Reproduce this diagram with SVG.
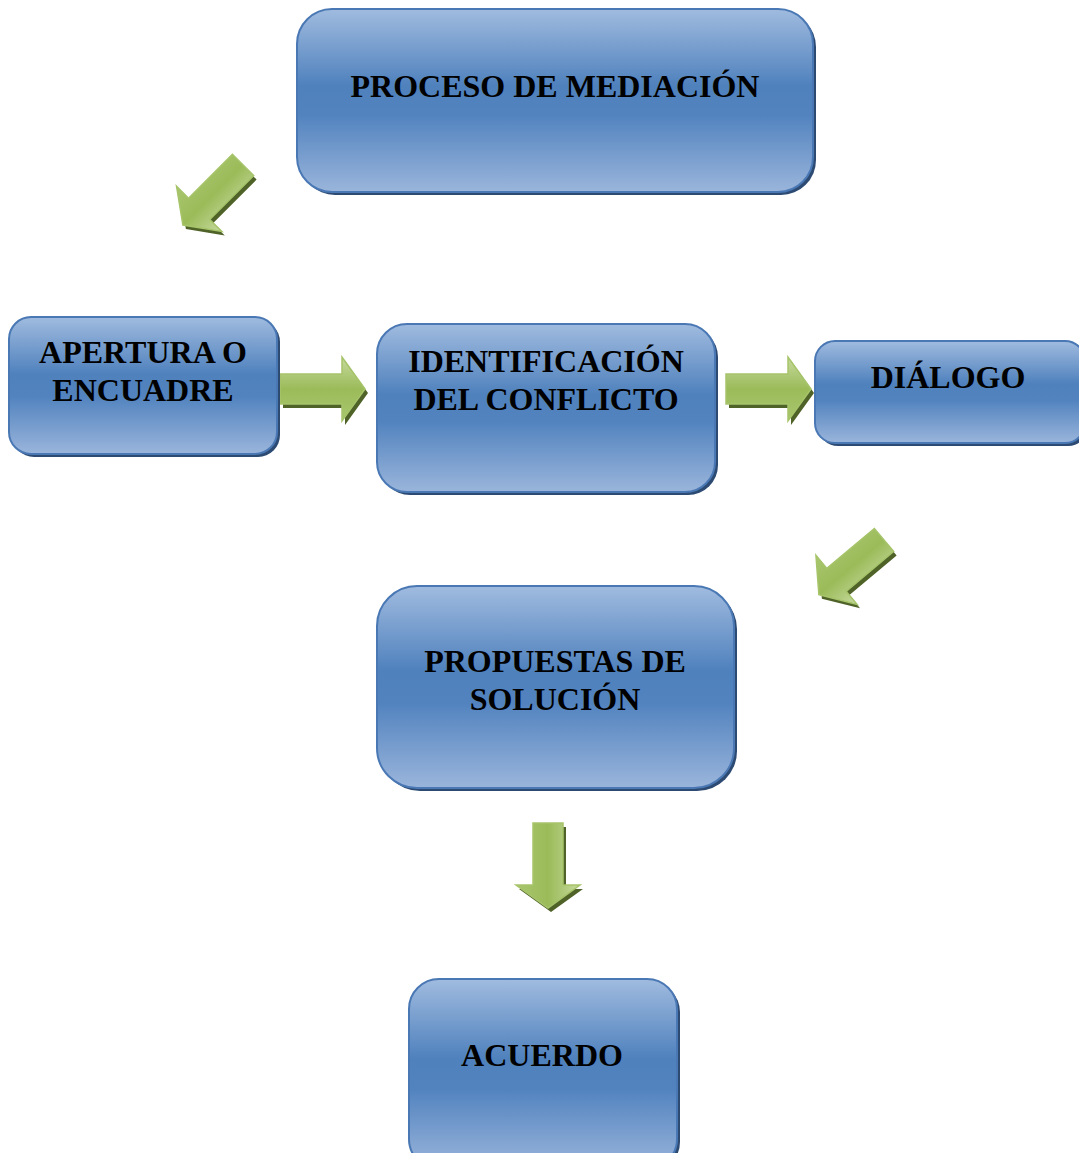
<svg xmlns="http://www.w3.org/2000/svg" xmlns:xlink="http://www.w3.org/1999/xlink" width="1079" height="1153" viewBox="0 0 1079 1153">
<style>
.box{fill:url(#boxGrad);stroke:#4a78b4;stroke-width:2}
.shadow{fill:#2c4a72}
.lbl{font-family:"Liberation Serif","Times New Roman",serif;font-weight:bold;font-size:32px;fill:#000;text-anchor:middle}
.arr{fill:url(#arrGrad);stroke:#a6c46a;stroke-width:1.5}
.arrsh{fill:#4f6228}
</style>
<defs>
<linearGradient id="boxGrad" x1="0" y1="0" x2="0" y2="1">
<stop offset="0" stop-color="#a0bbdf"/>
<stop offset="0.42" stop-color="#4f81bd"/>
<stop offset="0.58" stop-color="#5283bf"/>
<stop offset="1" stop-color="#9ab5db"/>
</linearGradient>
<linearGradient id="arrGrad" x1="0" y1="0" x2="0" y2="1">
<stop offset="0" stop-color="#c6da9e"/>
<stop offset="0.5" stop-color="#9bbb59"/>
<stop offset="1" stop-color="#a9c66e"/>
</linearGradient>
<path id="arrowShape" d="M0,-15 H62 V-32 L85,0 L62,32 V15 H0 Z"/>
</defs>

<g id="connectors">
<g id="arrow1">
<use xlink:href="#arrowShape" href="#arrowShape" class="arrsh" transform="translate(246,169) rotate(135)"/>
<use xlink:href="#arrowShape" href="#arrowShape" class="arr" transform="translate(243,165) rotate(135)"/>
</g>
<g id="arrow2">
<use xlink:href="#arrowShape" href="#arrowShape" class="arrsh" transform="translate(283,393)"/>
<use xlink:href="#arrowShape" href="#arrowShape" class="arr" transform="translate(280,389)"/>
</g>
<g id="arrow3">
<use xlink:href="#arrowShape" href="#arrowShape" class="arrsh" transform="translate(729,393)"/>
<use xlink:href="#arrowShape" href="#arrowShape" class="arr" transform="translate(726,389)"/>
</g>
<g id="arrow4">
<use xlink:href="#arrowShape" href="#arrowShape" class="arrsh" transform="translate(887,544) rotate(140)"/>
<use xlink:href="#arrowShape" href="#arrowShape" class="arr" transform="translate(884,540) rotate(140)"/>
</g>
<g id="arrow5">
<use xlink:href="#arrowShape" href="#arrowShape" class="arrsh" transform="translate(551,827) rotate(90)"/>
<use xlink:href="#arrowShape" href="#arrowShape" class="arr" transform="translate(548,823) rotate(90)"/>
</g>
</g>

<g id="node-proceso">
<rect class="shadow" x="300" y="12" width="516" height="183" rx="35"/>
<rect class="box" x="297" y="9" width="516" height="183" rx="35"/>
<text class="lbl" x="555" y="97">PROCESO DE MEDIACIÓN</text>
</g>

<g id="node-apertura">
<rect class="shadow" x="12" y="320" width="268" height="137" rx="22"/>
<rect class="box" x="9" y="317" width="268" height="137" rx="22"/>
<text class="lbl" x="143" y="363">APERTURA O</text>
<text class="lbl" x="143" y="401">ENCUADRE</text>
</g>

<g id="node-identificacion">
<rect class="shadow" x="380" y="327" width="338" height="168" rx="30"/>
<rect class="box" x="377" y="324" width="338" height="168" rx="30"/>
<text class="lbl" x="546" y="372">IDENTIFICACIÓN</text>
<text class="lbl" x="546" y="410">DEL CONFLICTO</text>
</g>

<g id="node-dialogo">
<rect class="shadow" x="818" y="344" width="270" height="102" rx="20"/>
<rect class="box" x="815" y="341" width="270" height="102" rx="20"/>
<text class="lbl" x="948" y="388">DIÁLOGO</text>
</g>

<g id="node-propuestas">
<rect class="shadow" x="380" y="589" width="357" height="202" rx="40"/>
<rect class="box" x="377" y="586" width="357" height="202" rx="40"/>
<text class="lbl" x="555" y="672">PROPUESTAS DE</text>
<text class="lbl" x="555" y="710">SOLUCIÓN</text>
</g>

<g id="node-acuerdo">
<rect class="shadow" x="412" y="982" width="268" height="190" rx="30"/>
<rect class="box" x="409" y="979" width="268" height="190" rx="30"/>
<text class="lbl" x="542" y="1066">ACUERDO</text>
</g>
</svg>
